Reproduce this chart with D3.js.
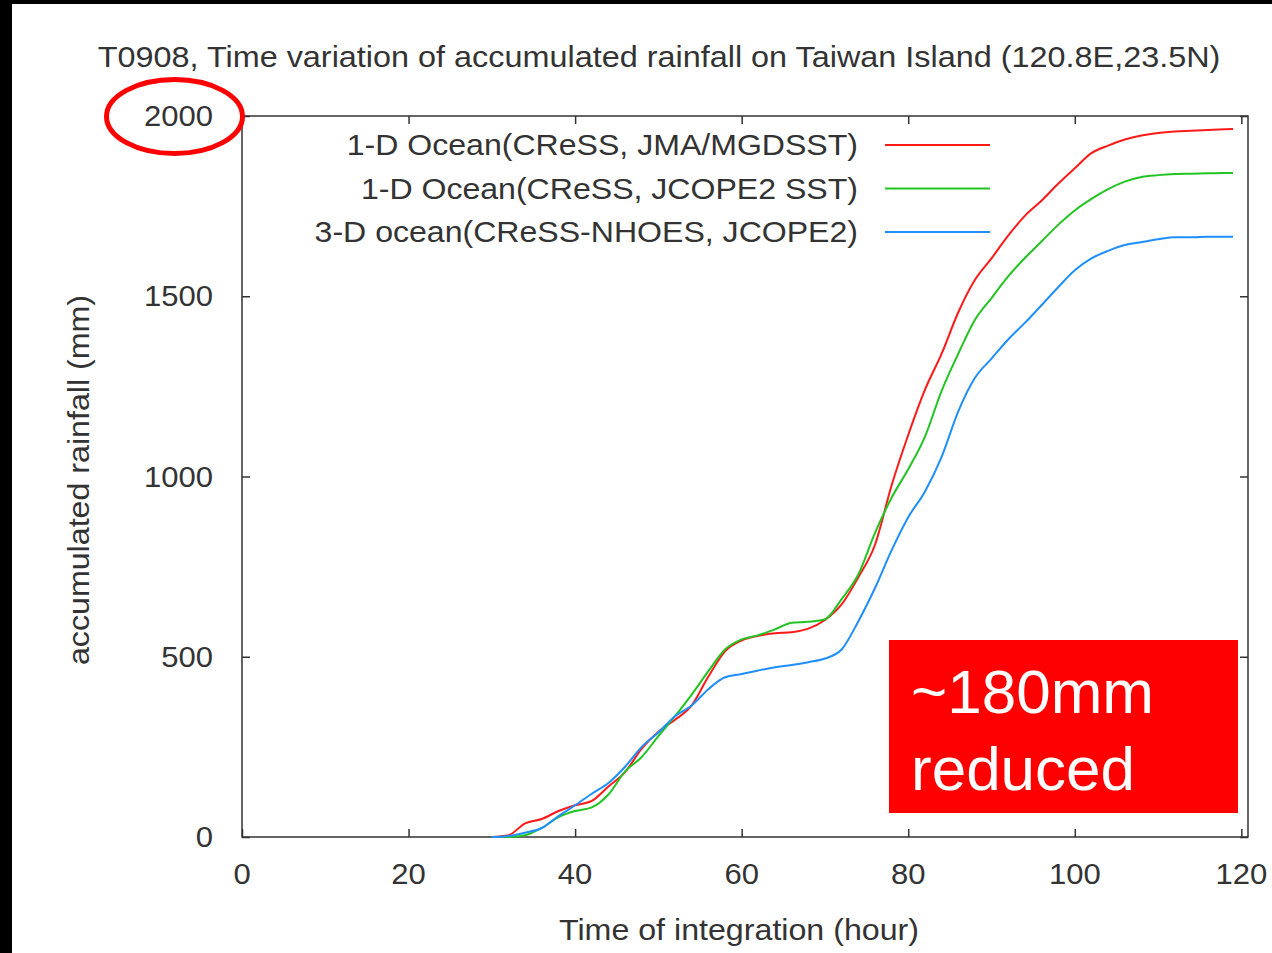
<!DOCTYPE html>
<html>
<head>
<meta charset="utf-8">
<script src="https://cdn.jsdelivr.net/npm/d3@7"></script>
<style>
  body { margin: 0; background: #fff; }
  svg { display: block; font-family: "Liberation Sans", Arial, sans-serif; }
</style>
</head>
<body>
<svg id="chart" width="1272" height="953"></svg>
<script>
// hours of integration
const hours = [30, 32, 34, 36, 38, 40, 42, 44, 46, 48, 50, 52, 54, 56, 58, 60, 62, 64, 66, 68, 70,
  72, 74, 76, 78, 80, 82, 84, 86, 88, 90, 92, 94, 96, 98, 100, 102, 104, 106, 108, 110, 112, 114, 116, 118, 119];

// accumulated rainfall (mm)
const oceanJMA = [0, 5, 38, 50, 72, 88, 100, 140, 180, 245, 292, 325, 365, 445, 515, 545, 558, 565, 568, 578, 602,
  645, 720, 810, 975, 1115, 1240, 1340, 1455, 1545, 1605, 1668, 1723, 1765, 1812, 1855, 1897, 1918, 1935, 1946, 1953, 1957, 1959, 1961, 1963, 1964];
const oceanJCOPE = [0, 0, 5, 25, 55, 72, 82, 118, 182, 222, 280, 335, 395, 460, 520, 548, 560, 576, 594, 597, 604,
  660, 728, 843, 941, 1020, 1110, 1237, 1340, 1434, 1495, 1555, 1606, 1652, 1698, 1738, 1770, 1797, 1818, 1831, 1836, 1839, 1840, 1841, 1842, 1842];
const ocean3D = [0, 3, 12, 25, 58, 88, 120, 150, 195, 250, 290, 335, 365, 410, 443, 452, 462, 471, 477, 485, 495,
  520, 598, 690, 795, 887, 958, 1054, 1180, 1273, 1327, 1380, 1426, 1475, 1525, 1572, 1605, 1626, 1642, 1650, 1658, 1664, 1664, 1665, 1665, 1665];

const seriesNames = ['1-D Ocean(CReSS, JMA/MGDSST)', '1-D Ocean(CReSS, JCOPE2 SST)', '3-D ocean(CReSS-NHOES, JCOPE2)'];
const seriesColors = ['#ff1a1a', '#22c422', '#1f8fff'];
const xTicks = [0, 20, 40, 60, 80, 100, 120];
const yTicks = [0, 500, 1000, 1500, 2000];

const svg = d3.select('#chart');

// black frame strips of the slide
svg.append('rect').attr('x', 0).attr('y', 0).attr('width', 1272).attr('height', 4).attr('fill', '#000');
svg.append('rect').attr('x', 0).attr('y', 0).attr('width', 12).attr('height', 953).attr('fill', '#000');

const plotLeft = 242, plotRight = 1248, plotTop = 116, plotBottom = 837;

const x = d3.scaleLinear().domain([0, 120.8]).range([plotLeft, plotRight]);
const y = d3.scaleLinear().domain([0, 2000]).range([plotBottom, plotTop]);

const textColor = '#333';
const fontSize = 29;
const stretch = 1.11; // the plot font is a bit wider than Liberation Sans

// text placed at (tx, ty), widened along its own baseline
function label(tx, ty, str, anchor, rot = 0, sx = stretch) {
  return svg.append('text')
    .attr('transform', `translate(${tx},${ty}) rotate(${rot}) scale(${sx},1)`)
    .attr('text-anchor', anchor)
    .attr('font-size', fontSize)
    .attr('fill', textColor)
    .text(str);
}

// ticks, mirrored on all sides
const xAxisB = d3.axisBottom(x).tickValues(xTicks).tickSizeInner(-8).tickSizeOuter(0).tickFormat('');
const xAxisT = d3.axisTop(x).tickValues(xTicks).tickSizeInner(-8).tickSizeOuter(0).tickFormat('');
const yAxisL = d3.axisLeft(y).tickValues(yTicks).tickSizeInner(-8).tickSizeOuter(0).tickFormat('');
const yAxisR = d3.axisRight(y).tickValues(yTicks).tickSizeInner(-8).tickSizeOuter(0).tickFormat('');

function styleAxis(g) {
  g.select('.domain').remove();
  g.selectAll('.tick line').attr('stroke', '#333').attr('stroke-width', 1.5);
}

svg.append('g').attr('transform', `translate(0,${plotBottom})`).call(xAxisB).call(styleAxis);
svg.append('g').attr('transform', `translate(0,${plotTop})`).call(xAxisT).call(styleAxis);
svg.append('g').attr('transform', `translate(${plotLeft},0)`).call(yAxisL).call(styleAxis);
svg.append('g').attr('transform', `translate(${plotRight},0)`).call(yAxisR).call(styleAxis);

// tick labels
xTicks.forEach(t => label(x(t), 884, String(t), 'middle', 0, 1.07));
yTicks.forEach(t => label(213, y(t) + 10, String(t), 'end', 0, 1.07));

svg.append('rect')
  .attr('x', plotLeft).attr('y', plotTop)
  .attr('width', plotRight - plotLeft).attr('height', plotBottom - plotTop)
  .attr('fill', 'none').attr('stroke', '#333').attr('stroke-width', 1.5);

// title and axis labels
label(659, 67, 'T0908, Time variation of accumulated rainfall on Taiwan Island (120.8E,23.5N)', 'middle', 0, 1.117);
label(739, 940, 'Time of integration (hour)', 'middle');
label(89, 480, 'accumulated rainfall (mm)', 'middle', -90);

// lines
const allSeries = [oceanJMA, oceanJCOPE, ocean3D];
const line = d3.line()
  .x((d, i) => x(hours[i]))
  .y(d => y(d))
  .curve(d3.curveMonotoneX);

allSeries.forEach((vals, k) => {
  svg.append('path')
    .datum(vals)
    .attr('d', line)
    .attr('fill', 'none')
    .attr('stroke', seriesColors[k])
    .attr('stroke-width', 2);
});

// legend
seriesNames.forEach((name, k) => {
  const ly = 145 + k * 43.5;
  label(858, ly + 10, name, 'end', 0, 1.106);
  svg.append('line')
    .attr('x1', 885).attr('x2', 990)
    .attr('y1', ly).attr('y2', ly)
    .attr('stroke', seriesColors[k]).attr('stroke-width', 2);
});

// annotations from the slide
svg.append('ellipse')
  .attr('cx', 174.5).attr('cy', 116.5).attr('rx', 68).attr('ry', 37)
  .attr('fill', 'none').attr('stroke', '#f00').attr('stroke-width', 5);

svg.append('rect')
  .attr('x', 889).attr('y', 640).attr('width', 349).attr('height', 173)
  .attr('fill', '#fe0000');

svg.append('text')
  .attr('x', 911).attr('y', 713)
  .attr('font-size', 62).attr('fill', '#fff')
  .text('~180mm');
svg.append('text')
  .attr('x', 911).attr('y', 790)
  .attr('font-size', 62).attr('fill', '#fff')
  .text('reduced');
</script>
</body>
</html>
